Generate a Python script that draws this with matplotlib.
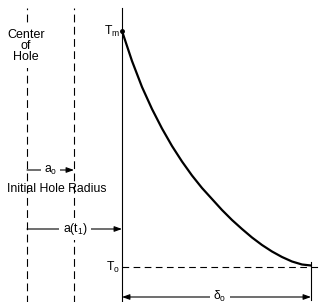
import matplotlib
matplotlib.use("Agg")
import matplotlib.pyplot as plt

plt.rcParams['font.family'] = ['Liberation Sans', 'DejaVu Sans']
plt.rcParams['mathtext.fontset'] = 'custom'
plt.rcParams['mathtext.rm'] = 'Liberation Sans'
plt.rcParams['mathtext.it'] = 'Liberation Sans'
plt.rcParams['mathtext.default'] = 'regular'

# ---- data (radial distance measured from the hole surface at time t1) ----
hole_center = -95          # centre of hole
initial_radius_edge = -48  # edge of initial hole (a_o)
surface = 0                # hole surface at t1, a(t1)
delta0 = 189               # thermal penetration depth
Tm = 236                   # melt temperature (relative)
T0 = 0                     # ambient temperature

curve_r = [0, 10, 20, 30, 40, 50, 60, 70, 80, 90, 100, 110, 120, 130,
           140, 150, 160, 170, 180, 189]
curve_T = [236, 206, 180, 158, 138.5, 121, 105.5, 91.5, 79, 68, 57, 47, 38,
           29.5, 22, 15.5, 10, 5.5, 2.5, 1.5]

labels = {
    'center': 'Center\nof\nHole',
    'init': 'Initial Hole Radius',
    'a0': r'a$_o$',
    'at1': r'a(t$_1$)',
    'Tm': r'T$_m$',
    'T0': r'T$_o$',
    'delta': r'$\delta_o$',
}

fig = plt.figure(figsize=(3.2, 3.02), dpi=100)
ax = fig.add_axes([0, 0, 1, 1])
ax.set_xlim(-122, 198)
ax.set_ylim(-35, 267)
ax.axis('off')

top = 259
bottom = -40
dash = (0, (7, 4))
lw_thin = 0.8

# vertical guide lines
ax.plot([hole_center, hole_center], [bottom, top], color='black', lw=lw_thin, linestyle=dash)
ax.plot([initial_radius_edge, initial_radius_edge], [bottom, top], color='black', lw=lw_thin, linestyle=dash)
ax.plot([surface, surface], [bottom, top], color='black', lw=lw_thin)

# T0 dashed horizontal
ax.plot([surface, 198], [T0, T0], color='black', lw=lw_thin, linestyle=(0, (6, 4)))

# temperature profile
ax.plot(curve_r, curve_T, color='black', lw=1.6, solid_capstyle='round',
        solid_joinstyle='round')
ax.plot([surface], [Tm], 'o', color='black', ms=2.5)

# tick at delta0
ax.plot([delta0, delta0], [-33, 5], color='black', lw=lw_thin)

def arrow(x0, x1, y, both=False):
    style = '<|-|>,head_length=0.5,head_width=0.18' if both else '-|>,head_length=0.5,head_width=0.18'
    ax.annotate('', xy=(x1, y), xytext=(x0, y),
                arrowprops=dict(arrowstyle=style, color='black', lw=lw_thin,
                                shrinkA=0, shrinkB=0, mutation_scale=9))

y_a0 = 97
y_at1 = 38
y_delta = -30
arrow(hole_center, initial_radius_edge, y_a0)
arrow(hole_center, surface, y_at1)
arrow(surface, delta0, y_delta, both=True)

wbox = dict(boxstyle='square,pad=0.25', fc='white', ec='none')
fs = 8.8
ax.text(hole_center - 1, 221, labels['center'], ha='center', va='center', fontsize=9,
        linespacing=0.88, bbox=dict(boxstyle='square,pad=0.4', fc='white', ec='none'))
ax.text((hole_center + initial_radius_edge) / 2, y_a0, labels['a0'], ha='center', va='center',
        fontsize=fs, bbox=wbox)
ax.text(-65, 78, labels['init'], ha='center', va='center', fontsize=fs)
ax.text(-47, y_at1, labels['at1'], ha='center', va='center', fontsize=fs, bbox=wbox)
ax.text(-2, Tm, labels['Tm'], ha='right', va='center', fontsize=fs)
ax.text(-2, T0, labels['T0'], ha='right', va='center', fontsize=fs)
ax.text(98, y_delta + 1, labels['delta'], ha='center', va='center', fontsize=fs, bbox=wbox)

fig.savefig('out.png', dpi=100, facecolor='white')
